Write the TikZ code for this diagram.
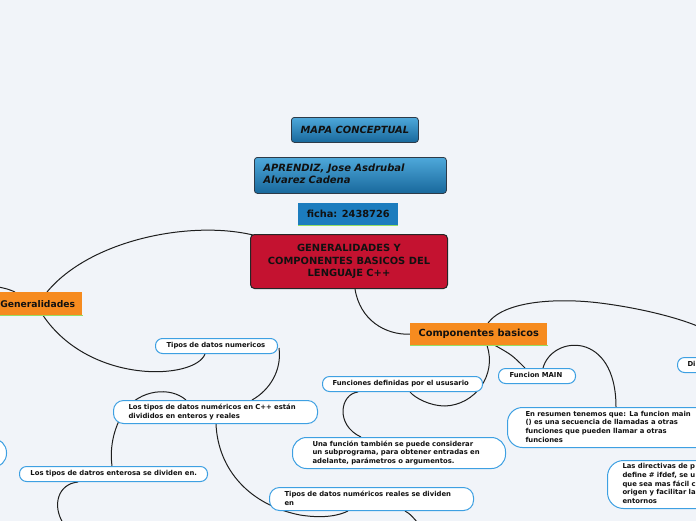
\documentclass[tikz,border=0pt]{standalone}
\usepackage{fontspec}
\setmainfont{DejaVu Sans}
\usetikzlibrary{calc}
\pgfdeclarelayer{background}
\pgfsetlayers{background,main}
\definecolor{bg}{RGB}{241,244,249}
\definecolor{leafblue}{RGB}{62,160,226}
\definecolor{ink}{RGB}{17,17,17}
\definecolor{hdtop}{RGB}{78,168,218}
\definecolor{hdbot}{RGB}{24,104,156}
\definecolor{hdborder}{RGB}{45,58,72}
\definecolor{fichablue}{RGB}{28,124,190}
\definecolor{mainred}{RGB}{196,18,48}
\definecolor{orangebox}{RGB}{246,139,31}
\definecolor{greenline}{RGB}{150,222,100}
\definecolor{wire}{RGB}{30,30,30}
\newcommand\txtl[1]{\begin{tabular}{@{}l@{}}#1\end{tabular}}
\newcommand\leaffont{\fontsize{6.85}{8.7}\selectfont\bfseries}
\tikzset{
  leaf/.style={draw=leafblue, line width=1pt, fill=white, anchor=north west,
    inner ysep=0pt, font=\leaffont, text=ink, align=left},
  header/.style={draw=hdborder, line width=0.8pt, top color=hdtop, bottom color=hdbot,
    rounded corners=3pt, anchor=north west, inner sep=0pt, text=ink},
  topic/.style={fill=orangebox, anchor=north west, inner sep=0pt, text=ink},
  wirestyle/.style={draw=wire, line width=1pt},
  uline/.style={draw=greenline, line width=1.6pt}
}
\begin{document}
\begin{tikzpicture}[x=1pt,y=-1pt]
\useasboundingbox (0,0) rectangle (696,520);
\clip (0,0) rectangle (696,520);
\begin{pgfonlayer}{background}
\fill[bg] (-10,-10) rectangle (706,530);
\end{pgfonlayer}

% header boxes
\node[header, minimum width=127pt, minimum height=25pt,
  font=\fontsize{9.9}{11}\selectfont\bfseries\itshape] (mapa) at (291,117) {MAPA CONCEPTUAL};
\node[header, minimum width=192pt, minimum height=36pt, text width=174pt, inner xsep=9pt, align=left,
  font=\fontsize{10}{11.7}\selectfont\bfseries\itshape] (apr) at (254,157)
  {\txtl{APRENDIZ, Jose Asdrubal\\Alvarez Cadena}};
\node[fill=fichablue, anchor=north west, inner sep=0pt, minimum width=100pt, minimum height=22pt,
  text=ink, font=\fontsize{9.8}{11}\selectfont\bfseries] (ficha) at (298,203) {ficha: 2438726};
\draw[uline] (ficha.south west) -- (ficha.south east);

% central node
\node[draw=black!85, line width=1pt, fill=mainred, rounded corners=4pt, anchor=north west,
  minimum width=197pt, minimum height=54pt, inner sep=0pt, align=center, text=ink,
  font=\fontsize{9.9}{12.5}\selectfont\bfseries] (central) at (250,234)
  {GENERALIDADES Y\\COMPONENTES BASICOS DEL\\LENGUAJE C++};

% topic nodes
\node[topic, minimum width=89pt, minimum height=23pt, font=\fontsize{9.2}{11}\selectfont\bfseries]
  (gen) at (-7,292) {Generalidades};
\draw[uline] (gen.south west) -- ($(gen.south east)+(1,0)$);
\node[topic, minimum width=137pt, minimum height=22pt, font=\fontsize{9.8}{11}\selectfont\bfseries]
  (comp) at (410,323) {Componentes basicos};
\draw[uline] (comp.south west) -- ($(comp.south east)+(1,0)$);

% leaf nodes
\node[leaf, rounded corners=7pt, minimum width=122pt, minimum height=15pt, text width=100pt, inner xsep=11pt]
  (n7) at (155,338) {\txtl{Tipos de datos numericos}};
\node[leaf, rounded corners=10pt, minimum width=204pt, minimum height=23pt, text width=174pt, inner xsep=15pt]
  (n8) at (113,400) {\txtl{Los tipos de datos numéricos en C++ están\\divididos en enteros y reales}};
\node[leaf, rounded corners=7pt, minimum width=188pt, minimum height=15pt, text width=166pt, inner xsep=11pt]
  (n9) at (19,466) {\txtl{Los tipos de datros enterosa se dividen en.}};
\node[leaf, rounded corners=7pt, minimum width=160pt, minimum height=15pt, text width=140pt, inner xsep=10pt]
  (n10) at (322,376) {\txtl{Funciones definidas por el ususario}};
\node[leaf, rounded corners=14pt, minimum width=213pt, minimum height=31pt, text width=173pt, inner xsep=20pt]
  (n11) at (292,437) {\txtl{Una función también se puede considerar\\un subprograma, para obtener entradas en\\adelante, parámetros o argumentos.}};
\node[leaf, rounded corners=10pt, minimum width=204pt, minimum height=23pt, text width=174pt, inner xsep=15pt]
  (n12) at (269,487) {\txtl{Tipos de datos numéricos reales se dividen\\en}};
\node[leaf, rounded corners=7pt, minimum width=77pt, minimum height=15pt, text width=55pt, inner xsep=11pt]
  (n13) at (498,368) {\txtl{Funcion MAIN}};
\node[leaf, rounded corners=15pt, minimum width=230pt, minimum height=40pt, text width=194pt, inner xsep=18pt]
  (n14) at (507,407) {\txtl{En resumen tenemos que: La funcion main\\() es una secuencia de llamadas a otras\\funciones que pueden llamar a otras\\funciones}};
\node[leaf, rounded corners=7pt, minimum width=60pt, minimum height=15pt, text width=40pt, inner xsep=10pt]
  (n15) at (677,357) {\txtl{Di}};
\node[leaf, rounded corners=16pt, minimum width=150pt, minimum height=48pt, text width=120pt, inner xsep=15pt]
  (n16) at (607,460) {\txtl{Las directivas de p\\define \# ifdef, se u\\que sea mas fácil c\\origen y facilitar la\\entornos}};
\node[leaf, rounded corners=14pt, minimum width=106pt, minimum height=29pt] (nleft) at (-100,438) {};

% connectors
\coordinate (offL) at (-6,286);
\coordinate (offB1) at (418,523);
\coordinate (offB2) at (63,523);
\coordinate (offR) at (702,328);
\begin{pgfonlayer}{background}
\draw[wirestyle] ($(central.north west)+(3,1)$) .. controls (190,220) and (90,240) .. ($(gen.north west)+(54,0)$);
\draw[wirestyle] ($(gen.north west)+(22,0)$) .. controls (8,289) .. (offL);
\draw[wirestyle] ($(gen.south west)+(50,0)$) .. controls (90,385) and (195,380) .. ($(n7.south west)+(50,0)$);
\draw[wirestyle] ($(n7.east)+(1,2)$) .. controls (282,370) and (270,390) .. ($(n8.north west)+(139,0)$);
\draw[wirestyle] ($(n8.north west)+(73,0)$) .. controls (170,386) and (140,390) .. (125,410)
   .. controls (112,430) and (110,450) .. ($(n9.north west)+(93,0)$);
\draw[wirestyle] ($(n8.south west)+(103,0)$) .. controls (218,470) and (250,505) .. (300,515)
   .. controls (325,519) and (340,515) .. ($(n12.south west)+(79,0)$);
\draw[wirestyle] ($(n12.south west)+(136,0)$) .. controls (410,514) .. (offB1);
\draw[wirestyle] ($(n9.south west)+(59,0)$) .. controls (58,484) and (52,505) .. (offB2);
\draw[wirestyle] ($(central.south west)+(105,0)$) .. controls (360,320) and (385,335) .. (comp.west);
\draw[wirestyle] ($(comp.south west)+(77,0)$) .. controls (497,375) and (475,405) .. (445,406)
   .. controls (430,406) and (415,398) .. ($(n10.south west)+(88,0)$);
\draw[wirestyle] ($(n10.south west)+(36,0)$) .. controls (340,394) and (335,425) .. ($(n11.north west)+(69,0)$);
\draw[wirestyle] ($(comp.south west)+(85,0)$) .. controls (512,355) .. ($(n13.north west)+(27,0)$);
\draw[wirestyle] ($(n13.north west)+(45,0)$) .. controls (552,335) and (616,330) .. ($(n14.north west)+(109,0)$);
\draw[wirestyle] ($(comp.north west)+(78,0)$) .. controls (505,300) and (560,298) .. (600,303)
   .. controls (640,308) and (680,318) .. (offR);
\end{pgfonlayer}
\end{tikzpicture}
\end{document}
